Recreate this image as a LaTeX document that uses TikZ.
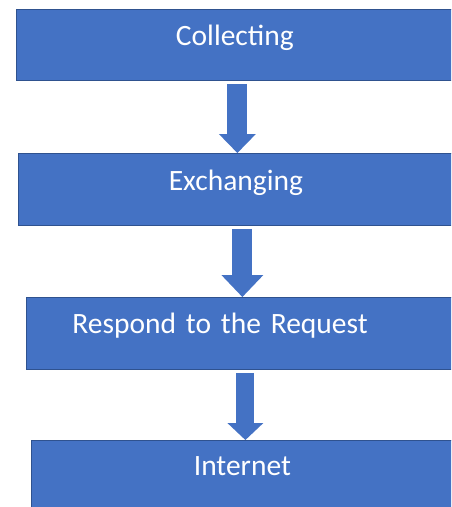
\documentclass[tikz,border=0pt]{standalone}
\usepackage{fontspec}
\setmainfont{Carlito}
\usepackage{tikz}
\usetikzlibrary{arrows.meta, positioning}

\definecolor{stagefill}{RGB}{68,114,196}
\definecolor{stageline}{RGB}{47,82,143}

\tikzset{
	stage/.style={rectangle, fill=stagefill, draw=stageline, line width=0.75pt,
		text=white, inner sep=0pt, align=center,
		font=\fontsize{29.5}{34}\selectfont, anchor=north west},
	flow/.style n args={3}{draw=stagefill, line width=#1, shorten <=3pt,
		-{Triangle[width=#2, length=#3, line width=0pt]}}
}

\begin{document}
\begin{tikzpicture}[x=1pt, y=-1pt]
			\useasboundingbox (0,0) rectangle (451,507);
			\clip (0,0) rectangle (451,507);
			\node[stage, text width=437pt, text height=36pt, text depth=35pt] (collect) at (16,9) {Collecting};
			\node[stage, text width=435pt, text height=37pt, text depth=35pt] (exchange) at (18,153) {Exchanging};
			\node[stage, align=left, inner xsep=46pt, text width=335pt, text height=36pt, text depth=36pt] (respond) at (26,297) {Respond to the Request};
			\node[stage, text width=422pt, text height=35pt, text depth=45pt] (internet) at (31,440) {Internet};
			\draw[flow={20pt}{37pt}{19pt}] ([xshift=2.5pt]collect.south) -- ([xshift=2.5pt]collect.south |- exchange.north);
			\draw[flow={20pt}{42pt}{22pt}] ([xshift=6.5pt]exchange.south) -- ([xshift=6.5pt]exchange.south |- respond.north);
			\draw[flow={18pt}{36pt}{17pt}] ([xshift=5.5pt]respond.south) -- ([xshift=5.5pt]respond.south |- internet.north);
		\end{tikzpicture}
\end{document}
